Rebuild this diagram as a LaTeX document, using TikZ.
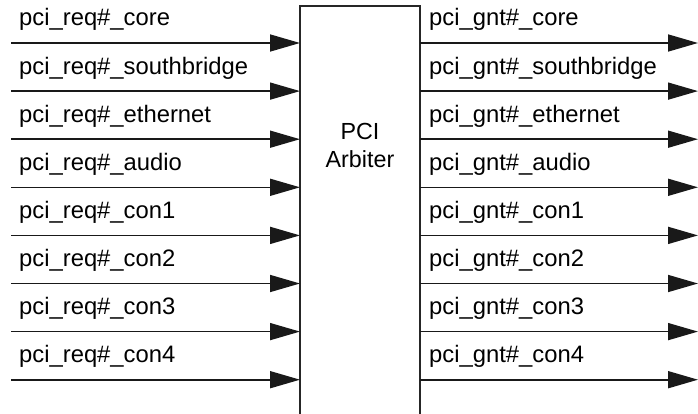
\documentclass[tikz,border=0pt]{standalone}
\usepackage{fontspec}
\setmainfont{Liberation Sans}
\usetikzlibrary{arrows.meta}
\begin{document}
\begin{tikzpicture}[x=1pt,y=-1pt,
  sig/.style={line width=1.6pt, draw=black!90, -{Triangle[length=30pt,width=17pt]}},
  lbl/.style={anchor=base west, inner sep=0pt, font=\fontsize{23.8}{28}\selectfont},
  boxline/.style={line width=2pt, draw=black!85}]
\useasboundingbox (0,0) rectangle (698,414);
\node[minimum width=120pt, minimum height=420pt, inner sep=0pt, anchor=north west] (arb) at (300,6) {};
\draw[boxline] (arb.south west) -- (arb.north west) -- (arb.north east) -- (arb.south east);
\node[align=center, inner sep=0pt, font=\fontsize{23.3}{28}\selectfont] (title) at (360,145) {PCI\\Arbiter};
\foreach \i/\n in {0/core,1/southbridge,2/ethernet,3/audio,4/con1,5/con2,6/con3,7/con4}{
  \pgfmathsetmacro{\yy}{43+48.1*\i}
  \coordinate (in\i) at (11,\yy);
  \coordinate (out\i) at (698,\yy);
  \draw[sig] (in\i) -- (in\i -| arb.west);
  \draw[sig] (out\i -| arb.east) -- (out\i);
  \node[lbl] (inl\i) at (19,\yy-17) {pci\_req\#\_\n};
  \node[lbl] (outl\i) at (429,\yy-17) {pci\_gnt\#\_\n};
}
\end{tikzpicture}
\end{document}
